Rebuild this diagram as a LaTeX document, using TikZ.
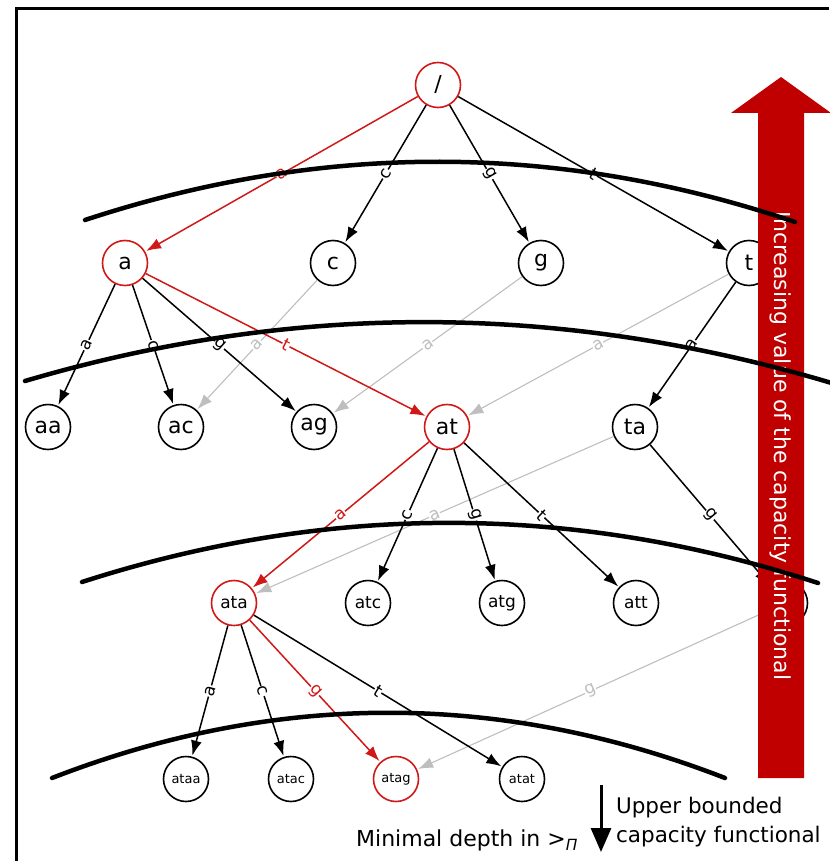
\documentclass[tikz,border=0pt]{standalone}
\usepackage{fontspec}
\setmainfont{DejaVu Sans}
\usetikzlibrary{arrows.meta}

\definecolor{pathred}{HTML}{D01818}
\definecolor{barred}{HTML}{C00000}
\definecolor{edgegrey}{HTML}{BEBEBE}

\begin{document}
\begin{tikzpicture}[->,>={Latex[length=15pt,width=11pt]},shorten >=1pt,
            x=1pt,y=-1pt,line width=1.5pt,node distance=133pt,
            main node/.style={circle,draw,minimum size=45pt,inner sep=0pt,line width=1.6pt,font=\fontsize{22}{22}\selectfont},
            mid node/.style={main node,font=\fontsize{17}{17}\selectfont},
            leaf node/.style={main node,font=\fontsize{13}{13}\selectfont},
            best/.style={draw=pathred},
            red edge/.style={draw=pathred,text=pathred},
            grey edge/.style={draw=edgegrey,text=edgegrey,line width=1.1pt},
            level line/.style={-,shorten >=0pt,line width=4.5pt,line cap=round}]

        \useasboundingbox (0,0) rectangle (829,861);

        % Frame
        \draw[-,shorten >=0pt,line width=3pt] (829,8.5) -- (16.5,8.5) -- (16.5,861);

        % Define vertices
        \node[main node,best] (root) at (438,85) {/};
        \node[main node,best] (a) at (125,263) {a};
        \node[main node] (c) [right of=a,node distance=208pt] {c};
        \node[main node] (g) [right of=c,node distance=208pt] {g};
        \node[main node] (t) [right of=g,node distance=208pt] {t};

        \node[main node] (aa) at (48,427) {aa};
        \node[main node] (ac) [right of=aa] {ac};
        \node[main node] (ag) [right of=ac] {ag};
        \node[main node,best] (at) [right of=ag] {at};
        \node[main node] (ta) at (635,427) {ta};

        \node[mid node,best] (ata) at (234,603) {ata};
        \node[mid node] (atc) [right of=ata,node distance=134pt] {atc};
        \node[mid node] (atg) [right of=atc,node distance=134pt] {atg};
        \node[mid node] (att) [right of=atg,node distance=134pt] {att};
        \node[mid node] (tat) at (785,603) {tat};

        \node[leaf node] (ataa) at (186,779) {ataa};
        \node[leaf node] (atac) [right of=ataa,node distance=105pt] {atac};
        \node[leaf node,best] (atag) [right of=atac,node distance=105pt] {atag};
        \node[leaf node] (atat) at (522,779) {atat};

        % Draw edges
        \path[every node/.style={font=\fontsize{17}{17}\selectfont,sloped,fill=white,inner sep=0.5pt}]
            (c) edge[grey edge] node {a} (ac)
            (g) edge[grey edge] node {a} (ag)
            (t) edge[grey edge] node {a} (at)
            (ta) edge[grey edge] node {a} (ata)
            (tat) edge[grey edge] node {g} (atag)
            (root) edge node {c} (c)
            (root) edge node {g} (g)
            (root) edge node {t} (t)
            (a) edge node {a} (aa)
            (a) edge node {c} (ac)
            (a) edge node {g} (ag)
            (t) edge node {a} (ta)
            (at) edge node {c} (atc)
            (at) edge node {g} (atg)
            (at) edge node {t} (att)
            (ta) edge node {g} (tat)
            (ata) edge node {a} (ataa)
            (ata) edge node {c} (atac)
            (ata) edge node {t} (atat)
            (root) edge[red edge] node {a} (a)
            (a) edge[red edge] node {t} (at)
            (at) edge[red edge] node {a} (ata)
            (ata) edge[red edge] node {g} (atag);

        % Capacity arrow
        \fill[-,barred] (758,778) -- (758,113) -- (731,113) -- (781,77) -- (831,113)
            -- (804,113) -- (804,778) -- cycle;
        \node[rotate=-90,text=white,font=\fontsize{22}{22}\selectfont] (capacity) at (781,446)
            {Increasing value of the capacity functional};

        % Depth levels
        \draw[level line] (85,220) .. controls (322,142) and (558,142) .. (795,222);
        \draw[level line] (25,381) .. controls (293,302) and (561,302) .. (835,384);
        \draw[level line] (82,582) .. controls (327,503) and (573,503) .. (818,583);
        \draw[level line] (52,778) .. controls (276,691) and (501,691) .. (725,778);

        % Legend
        \node[font=\fontsize{22}{22}\selectfont,anchor=base east] (mindepth) at (582,846)
            {Minimal depth in >\textsubscript{\textit{Π}}};
        \coordinate (bound top) at (601,785);
        \coordinate (bound end) at (601,852);
        \draw[line width=3pt,shorten >=0pt,-{Triangle[length=24pt,width=20pt]}] (bound top) -- (bound end);
        \node[font=\fontsize{21.5}{29}\selectfont,anchor=west,align=left] (upper) at (612,822)
            {Upper bounded\\capacity functional};

\end{tikzpicture}
\end{document}
